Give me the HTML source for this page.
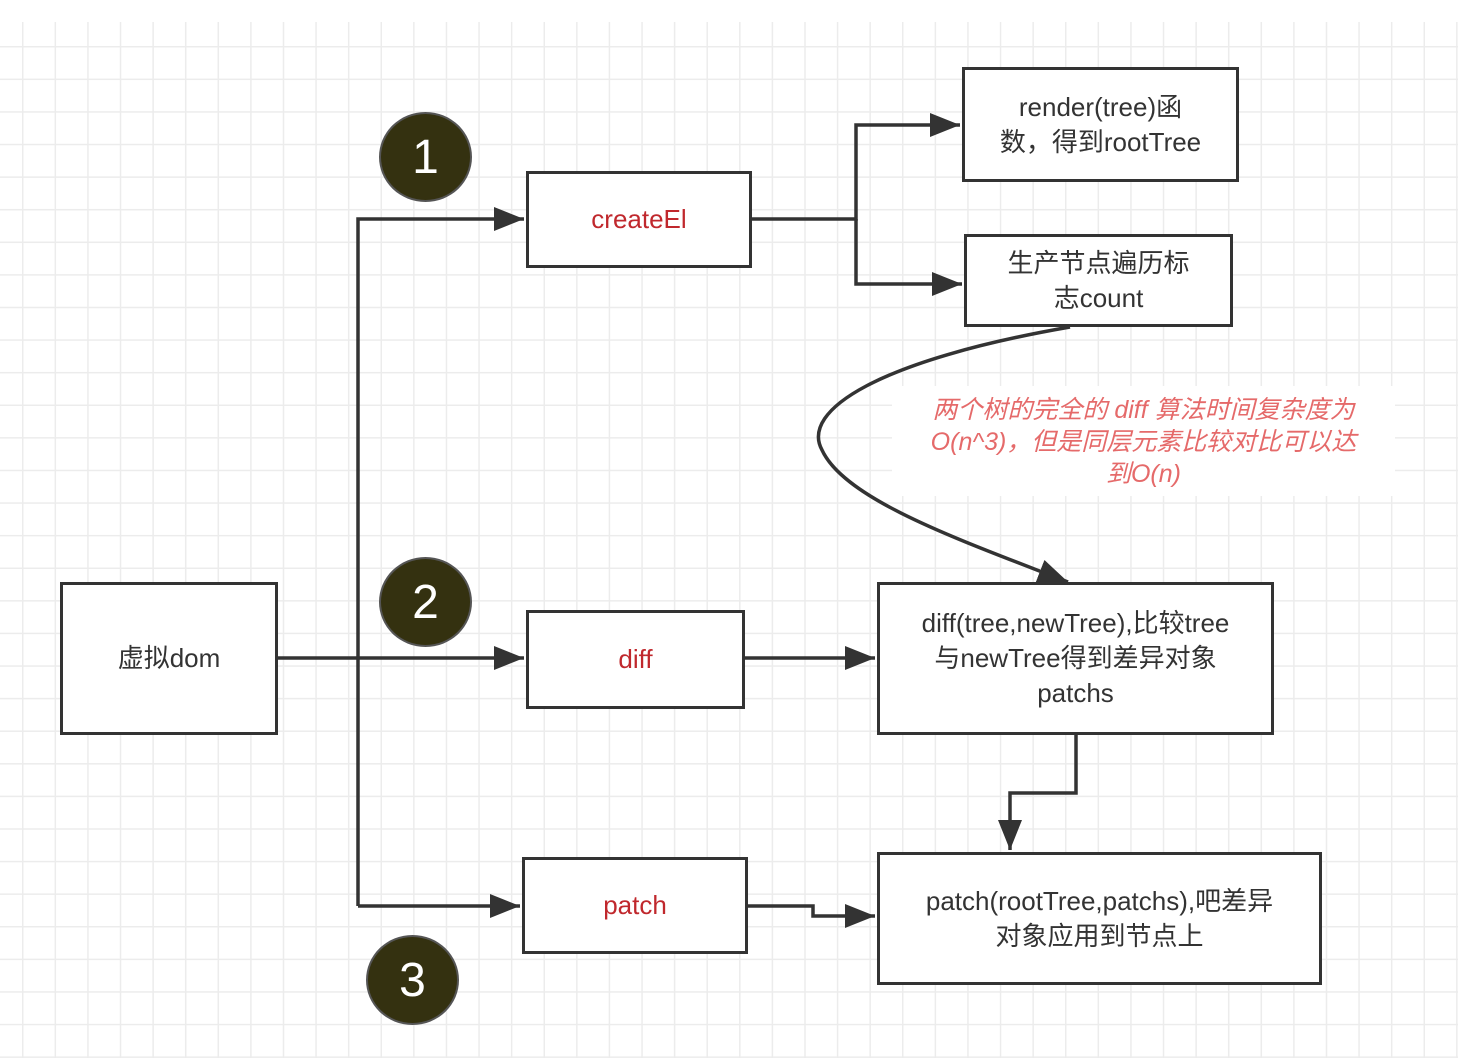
<!DOCTYPE html>
<html><head><meta charset="utf-8"><style>
html,body{margin:0;padding:0;background:#fff;}
body{width:1458px;height:1058px;overflow:hidden;position:relative;font-family:"Liberation Sans","Noto Sans CJK SC",sans-serif;}
.grid{position:absolute;left:0;top:22px;width:1458px;height:1036px;
background-image:linear-gradient(to right,#ececec 1.5px,transparent 1.5px),linear-gradient(to bottom,#ececec 1.5px,transparent 1.5px);
background-size:32.6px 32.6px;background-position:22px 24px;}
.box{position:absolute;border:3px solid #333;background:#fff;box-sizing:border-box;display:flex;align-items:center;justify-content:center;text-align:center;font-size:26px;color:#333;line-height:35px;}
.red{color:#c0282d;}
.c{position:absolute;border-radius:50%;background:#343110;border:2px solid #555;color:#fff;font-size:48px;display:flex;align-items:center;justify-content:center;box-sizing:border-box;}
.note{position:absolute;left:892px;top:386px;width:503px;height:110px;background:#fff;color:#e56a6a;font-style:italic;font-size:25px;text-align:center;line-height:32px;padding-top:8px;box-sizing:border-box;white-space:nowrap;}
svg{position:absolute;left:0;top:0;}
</style></head><body>
<div class="grid"></div>
<div class="note">两个树的完全的 diff 算法时间复杂度为<br>O(n^3)，但是同层元素比较对比可以达<br>到O(n)</div>
<svg width="1458" height="1058">
<defs><marker id="b" markerWidth="30" markerHeight="24" refX="30" refY="12" orient="auto" markerUnits="userSpaceOnUse"><path d="M0,0 L30,12 L0,24z" fill="#333"/></marker></defs>
<g stroke="#333" stroke-width="3.5" fill="none">
<path d="M277,658 H524" marker-end="url(#b)"/>
<path d="M358,906 V219 H524" marker-end="url(#b)"/>
<path d="M358,906 H520" marker-end="url(#b)"/>
<path d="M751,219 H856 V125 H960" marker-end="url(#b)"/>
<path d="M856,219 V284 H962" marker-end="url(#b)"/>
<path d="M744,658 H875" marker-end="url(#b)"/>
<path d="M1076,734 V793 H1010 V850" marker-end="url(#b)"/>
<path d="M747,906 H813 V916 H875" marker-end="url(#b)"/>
<path d="M1070,327 C880,360 800,410 822,450 C845,500 960,540 1068,582" marker-end="url(#b)"/>
</g></svg>
<div class="box" style="left:60px;top:582px;width:218px;height:153px;">虚拟dom</div>
<div class="box red" style="left:526px;top:171px;width:226px;height:97px;">createEl</div>
<div class="box red" style="left:526px;top:610px;width:219px;height:99px;">diff</div>
<div class="box red" style="left:522px;top:857px;width:226px;height:97px;">patch</div>
<div class="box" style="left:962px;top:67px;width:277px;height:115px;">render(tree)函<br>数，得到rootTree</div>
<div class="box" style="left:964px;top:234px;width:269px;height:93px;">生产节点遍历标<br>志count</div>
<div class="box" style="left:877px;top:582px;width:397px;height:153px;">diff(tree,newTree),比较tree<br>与newTree得到差异对象<br>patchs</div>
<div class="box" style="left:877px;top:852px;width:445px;height:133px;">patch(rootTree,patchs),吧差异<br>对象应用到节点上</div>
<div class="c" style="left:379px;top:112px;width:93px;height:90px;">1</div>
<div class="c" style="left:379px;top:557px;width:93px;height:90px;">2</div>
<div class="c" style="left:366px;top:935px;width:93px;height:90px;">3</div>
</body></html>
